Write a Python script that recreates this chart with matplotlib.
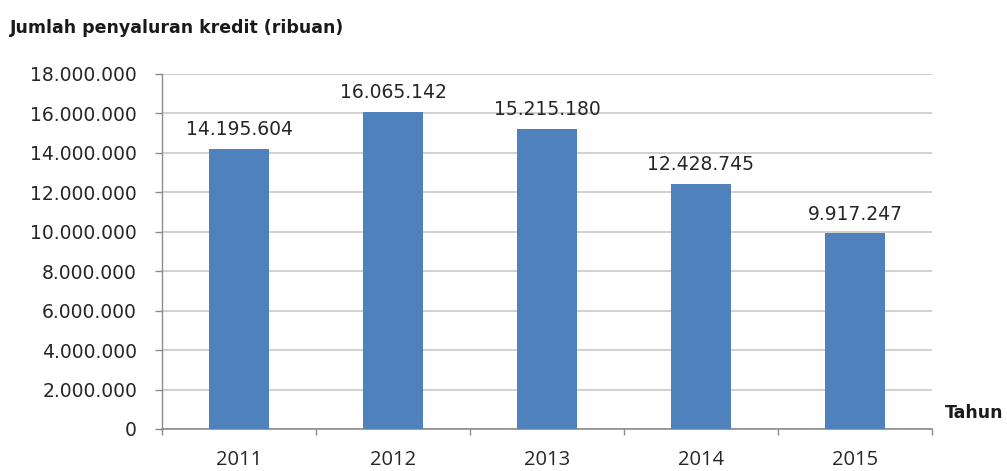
import matplotlib.pyplot as plt
import numpy as np

# data penyaluran kredit per tahun (ribuan)
tahun = ['2011', '2012', '2013', '2014', '2015']
kredit = [14195604, 16065142, 15215180, 12428745, 9917247]
label_kredit = ['14.195.604', '16.065.142', '15.215.180', '12.428.745', '9.917.247']
yticks = [0, 2000000, 4000000, 6000000, 8000000, 10000000, 12000000, 14000000, 16000000, 18000000]


# format angka dengan titik sebagai pemisah ribuan
def fmt(v):
    return '{:,}'.format(int(v)).replace(',', '.')


fig = plt.figure(figsize=(10.07, 4.71), dpi=100)
ax = fig.add_axes([0.1609, 0.0892, 0.7646, 0.7537])

x = np.arange(len(tahun))
bars = ax.bar(x, kredit, width=0.39, color='#4f81bd', zorder=3)

for xi, v, lab in zip(x, kredit, label_kredit):
    ax.annotate(lab, (xi, v), xytext=(0, 7), textcoords='offset points',
                ha='center', va='bottom', fontsize=13.5, color='#262626',
                family='DejaVu Sans')

ax.set_xlim(-0.5, len(tahun) - 0.5)
ax.set_ylim(0, 18000000)
ax.set_yticks(yticks)
ax.set_yticklabels([fmt(t) for t in yticks])
ax.set_xticks(x)
ax.set_xticklabels(tahun)
ax.set_xticks(np.arange(len(tahun) + 1) - 0.5, minor=True)

ax.grid(axis='y', color='#c8c8c8', linewidth=1.2, zorder=0)
ax.tick_params(axis='y', length=5, width=1, color='#8c8c8c', pad=13,
               labelsize=13.5, labelcolor='#262626')
ax.tick_params(axis='x', which='major', length=0, pad=15, labelsize=14.5,
               labelcolor='#262626')
ax.tick_params(axis='x', which='minor', length=4, width=1, color='#8c8c8c')
for lab in ax.get_xticklabels():
    lab.set_family('Open Sans')

for s in ['top', 'right']:
    ax.spines[s].set_visible(False)
ax.spines['left'].set_color('#8c8c8c')
ax.spines['bottom'].set_color('#8c8c8c')
ax.spines['left'].set_linewidth(1)
ax.spines['bottom'].set_linewidth(1.2)

fig.text(10 / 1007, 1 - 28 / 471, 'Jumlah penyaluran kredit (ribuan)',
         fontsize=12.5, fontweight='bold', color='#1a1a1a', va='center', ha='left')
fig.text(945 / 1007, 1 - 413 / 471, 'Tahun', fontsize=12.5, fontweight='bold',
         color='#1a1a1a', va='center', ha='left')

fig.savefig('out.png', dpi=100)
